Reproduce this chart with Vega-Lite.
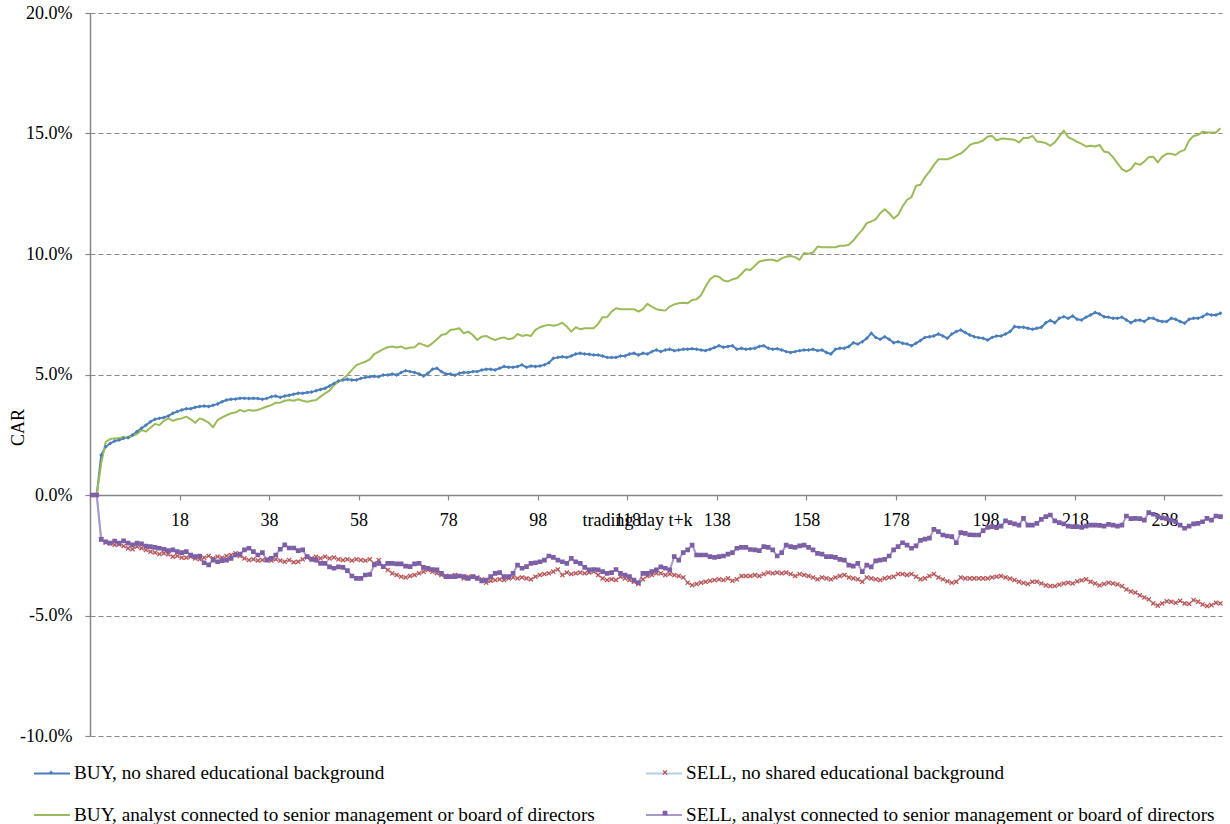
{
"$schema": "https://vega.github.io/schema/vega-lite/v6.json",
"width": 1132, "height": 723,
"autosize": {"type": "none"},
"padding": {"left": 90, "top": 13, "right": 8, "bottom": 88},
"background": "white",
"config": {
  "view": {"stroke": null},
  "font": "Liberation Serif",
  "axis": {"labelFont": "Liberation Serif", "labelFontSize": 18, "labelColor": "black", "titleFont": "Liberation Serif", "titleFontSize": 18, "titleFontWeight": "normal", "titleColor": "black", "domainColor": "#868686", "tickColor": "#868686", "domainWidth": 1.5, "tickWidth": 1.2}
},
"data": {"values": [
{"k":-2,"a":0,"b":0,"c":0,"d":0},
{"k":-1,"a":0,"b":0,"c":0,"d":0},
{"k":0,"a":1.66,"b":-1.84,"c":1.3,"d":-1.84},
{"k":1,"a":2.0,"b":-1.98,"c":2.2,"d":-1.94},
{"k":2,"a":2.14,"b":-2.0,"c":2.32,"d":-2.0},
{"k":3,"a":2.24,"b":-2.07,"c":2.35,"d":-1.91},
{"k":4,"a":2.28,"b":-2.05,"c":2.35,"d":-2.0},
{"k":5,"a":2.35,"b":-2.12,"c":2.42,"d":-1.9},
{"k":6,"a":2.39,"b":-2.21,"c":2.35,"d":-2.0},
{"k":7,"a":2.49,"b":-2.25,"c":2.45,"d":-2.07},
{"k":8,"a":2.63,"b":-2.14,"c":2.53,"d":-2.0},
{"k":9,"a":2.77,"b":-2.21,"c":2.7,"d":-2.03},
{"k":10,"a":2.9,"b":-2.28,"c":2.63,"d":-2.12},
{"k":11,"a":3.04,"b":-2.35,"c":2.79,"d":-2.14},
{"k":12,"a":3.14,"b":-2.39,"c":2.95,"d":-2.17},
{"k":13,"a":3.18,"b":-2.45,"c":2.9,"d":-2.21},
{"k":14,"a":3.22,"b":-2.42,"c":3.08,"d":-2.25},
{"k":15,"a":3.28,"b":-2.46,"c":3.18,"d":-2.31},
{"k":16,"a":3.39,"b":-2.56,"c":3.08,"d":-2.28},
{"k":17,"a":3.46,"b":-2.53,"c":3.14,"d":-2.35},
{"k":18,"a":3.53,"b":-2.6,"c":3.18,"d":-2.39},
{"k":19,"a":3.58,"b":-2.6,"c":3.25,"d":-2.35},
{"k":20,"a":3.58,"b":-2.56,"c":3.14,"d":-2.49},
{"k":21,"a":3.64,"b":-2.63,"c":3.0,"d":-2.56},
{"k":22,"a":3.67,"b":-2.67,"c":3.18,"d":-2.53},
{"k":23,"a":3.69,"b":-2.6,"c":3.11,"d":-2.81},
{"k":24,"a":3.67,"b":-2.53,"c":3.0,"d":-2.9},
{"k":25,"a":3.72,"b":-2.63,"c":2.81,"d":-2.7},
{"k":26,"a":3.78,"b":-2.56,"c":3.11,"d":-2.77},
{"k":27,"a":3.87,"b":-2.6,"c":3.22,"d":-2.72},
{"k":28,"a":3.94,"b":-2.53,"c":3.31,"d":-2.7},
{"k":29,"a":3.97,"b":-2.49,"c":3.39,"d":-2.63},
{"k":30,"a":3.98,"b":-2.42,"c":3.42,"d":-2.49},
{"k":31,"a":4.01,"b":-2.53,"c":3.53,"d":-2.45},
{"k":32,"a":4.01,"b":-2.63,"c":3.46,"d":-2.28},
{"k":33,"a":4.0,"b":-2.7,"c":3.53,"d":-2.21},
{"k":34,"a":4.01,"b":-2.67,"c":3.5,"d":-2.35},
{"k":35,"a":4.0,"b":-2.72,"c":3.53,"d":-2.49},
{"k":36,"a":3.97,"b":-2.7,"c":3.6,"d":-2.39},
{"k":37,"a":4.01,"b":-2.67,"c":3.67,"d":-2.7},
{"k":38,"a":4.08,"b":-2.72,"c":3.73,"d":-2.63},
{"k":39,"a":4.11,"b":-2.67,"c":3.83,"d":-2.49},
{"k":40,"a":4.05,"b":-2.72,"c":3.83,"d":-2.25},
{"k":41,"a":4.11,"b":-2.77,"c":3.91,"d":-2.07},
{"k":42,"a":4.14,"b":-2.7,"c":3.94,"d":-2.2},
{"k":43,"a":4.18,"b":-2.79,"c":3.91,"d":-2.2},
{"k":44,"a":4.22,"b":-2.77,"c":3.97,"d":-2.31},
{"k":45,"a":4.22,"b":-2.67,"c":3.91,"d":-2.28},
{"k":46,"a":4.25,"b":-2.59,"c":3.87,"d":-2.56},
{"k":47,"a":4.27,"b":-2.63,"c":3.91,"d":-2.67},
{"k":48,"a":4.33,"b":-2.56,"c":3.94,"d":-2.7},
{"k":49,"a":4.38,"b":-2.63,"c":4.08,"d":-2.84},
{"k":50,"a":4.43,"b":-2.56,"c":4.22,"d":-2.84},
{"k":51,"a":4.52,"b":-2.63,"c":4.33,"d":-2.98},
{"k":52,"a":4.63,"b":-2.59,"c":4.56,"d":-3.04},
{"k":53,"a":4.73,"b":-2.67,"c":4.7,"d":-2.98},
{"k":54,"a":4.77,"b":-2.7,"c":4.8,"d":-3.0},
{"k":55,"a":4.8,"b":-2.67,"c":4.98,"d":-3.14},
{"k":56,"a":4.77,"b":-2.72,"c":5.19,"d":-3.36},
{"k":57,"a":4.77,"b":-2.67,"c":5.39,"d":-3.46},
{"k":58,"a":4.84,"b":-2.7,"c":5.46,"d":-3.46},
{"k":59,"a":4.88,"b":-2.72,"c":5.53,"d":-3.32},
{"k":60,"a":4.91,"b":-2.67,"c":5.63,"d":-3.3},
{"k":61,"a":4.93,"b":-2.84,"c":5.85,"d":-2.9},
{"k":62,"a":4.91,"b":-2.7,"c":5.95,"d":-2.84},
{"k":63,"a":4.98,"b":-2.97,"c":6.05,"d":-2.97},
{"k":64,"a":4.98,"b":-3.11,"c":6.13,"d":-2.84},
{"k":65,"a":5.02,"b":-3.25,"c":6.16,"d":-2.84},
{"k":66,"a":4.98,"b":-3.32,"c":6.12,"d":-2.86},
{"k":67,"a":5.08,"b":-3.39,"c":6.16,"d":-2.86},
{"k":68,"a":5.16,"b":-3.42,"c":6.07,"d":-2.95},
{"k":69,"a":5.12,"b":-3.36,"c":6.12,"d":-2.97},
{"k":70,"a":5.08,"b":-3.32,"c":6.13,"d":-2.86},
{"k":71,"a":5.02,"b":-3.25,"c":6.3,"d":-2.84},
{"k":72,"a":4.94,"b":-3.18,"c":6.23,"d":-3.0},
{"k":73,"a":5.05,"b":-3.11,"c":6.16,"d":-3.04},
{"k":74,"a":5.22,"b":-3.18,"c":6.3,"d":-3.09},
{"k":75,"a":5.26,"b":-3.25,"c":6.46,"d":-3.11},
{"k":76,"a":5.12,"b":-3.32,"c":6.64,"d":-3.25},
{"k":77,"a":5.02,"b":-3.36,"c":6.68,"d":-3.39},
{"k":78,"a":5.02,"b":-3.39,"c":6.85,"d":-3.39},
{"k":79,"a":4.97,"b":-3.32,"c":6.88,"d":-3.39},
{"k":80,"a":5.05,"b":-3.36,"c":6.92,"d":-3.36},
{"k":81,"a":5.08,"b":-3.46,"c":6.71,"d":-3.39},
{"k":82,"a":5.08,"b":-3.39,"c":6.78,"d":-3.46},
{"k":83,"a":5.12,"b":-3.39,"c":6.64,"d":-3.39},
{"k":84,"a":5.12,"b":-3.42,"c":6.43,"d":-3.46},
{"k":85,"a":5.19,"b":-3.5,"c":6.57,"d":-3.56},
{"k":86,"a":5.22,"b":-3.64,"c":6.6,"d":-3.53},
{"k":87,"a":5.22,"b":-3.56,"c":6.5,"d":-3.39},
{"k":88,"a":5.19,"b":-3.53,"c":6.43,"d":-3.25},
{"k":89,"a":5.26,"b":-3.5,"c":6.5,"d":-3.22},
{"k":90,"a":5.33,"b":-3.53,"c":6.54,"d":-3.39},
{"k":91,"a":5.3,"b":-3.46,"c":6.46,"d":-3.39},
{"k":92,"a":5.3,"b":-3.42,"c":6.5,"d":-3.25},
{"k":93,"a":5.33,"b":-3.46,"c":6.68,"d":-2.91},
{"k":94,"a":5.4,"b":-3.42,"c":6.6,"d":-3.04},
{"k":95,"a":5.3,"b":-3.46,"c":6.64,"d":-2.97},
{"k":96,"a":5.35,"b":-3.5,"c":6.6,"d":-2.84},
{"k":97,"a":5.33,"b":-3.39,"c":6.85,"d":-2.81},
{"k":98,"a":5.35,"b":-3.32,"c":6.96,"d":-2.77},
{"k":99,"a":5.4,"b":-3.28,"c":7.02,"d":-2.7},
{"k":100,"a":5.49,"b":-3.25,"c":7.06,"d":-2.53},
{"k":101,"a":5.67,"b":-3.18,"c":7.02,"d":-2.59},
{"k":102,"a":5.71,"b":-3.09,"c":7.06,"d":-2.7},
{"k":103,"a":5.74,"b":-3.32,"c":7.15,"d":-2.77},
{"k":104,"a":5.71,"b":-3.22,"c":6.99,"d":-2.84},
{"k":105,"a":5.77,"b":-3.28,"c":6.78,"d":-2.63},
{"k":106,"a":5.85,"b":-3.25,"c":6.96,"d":-2.77},
{"k":107,"a":5.88,"b":-3.22,"c":6.88,"d":-2.84},
{"k":108,"a":5.85,"b":-3.25,"c":6.92,"d":-3.0},
{"k":109,"a":5.84,"b":-3.22,"c":6.92,"d":-3.11},
{"k":110,"a":5.81,"b":-3.18,"c":6.92,"d":-3.09},
{"k":111,"a":5.81,"b":-3.32,"c":7.1,"d":-3.11},
{"k":112,"a":5.77,"b":-3.46,"c":7.38,"d":-3.18},
{"k":113,"a":5.71,"b":-3.53,"c":7.38,"d":-3.25},
{"k":114,"a":5.71,"b":-3.5,"c":7.61,"d":-3.22},
{"k":115,"a":5.71,"b":-3.53,"c":7.75,"d":-3.09},
{"k":116,"a":5.77,"b":-3.39,"c":7.71,"d":-3.25},
{"k":117,"a":5.77,"b":-3.46,"c":7.71,"d":-3.32},
{"k":118,"a":5.85,"b":-3.53,"c":7.71,"d":-3.39},
{"k":119,"a":5.88,"b":-3.6,"c":7.71,"d":-3.53},
{"k":120,"a":5.81,"b":-3.69,"c":7.61,"d":-3.64},
{"k":121,"a":5.88,"b":-3.5,"c":7.71,"d":-3.25},
{"k":122,"a":5.85,"b":-3.36,"c":7.93,"d":-3.25},
{"k":123,"a":5.95,"b":-3.32,"c":7.82,"d":-3.18},
{"k":124,"a":6.02,"b":-3.25,"c":7.71,"d":-3.11},
{"k":125,"a":5.95,"b":-3.25,"c":7.68,"d":-2.98},
{"k":126,"a":6.02,"b":-3.32,"c":7.65,"d":-3.04},
{"k":127,"a":6.05,"b":-3.28,"c":7.82,"d":-3.11},
{"k":128,"a":5.99,"b":-3.32,"c":7.91,"d":-2.56},
{"k":129,"a":6.02,"b":-3.36,"c":7.96,"d":-2.7},
{"k":130,"a":6.05,"b":-3.42,"c":7.98,"d":-2.39},
{"k":131,"a":6.05,"b":-3.64,"c":7.96,"d":-2.28},
{"k":132,"a":6.07,"b":-3.74,"c":8.09,"d":-2.08},
{"k":133,"a":6.05,"b":-3.69,"c":8.12,"d":-2.49},
{"k":134,"a":6.02,"b":-3.64,"c":8.3,"d":-2.49},
{"k":135,"a":5.99,"b":-3.6,"c":8.65,"d":-2.49},
{"k":136,"a":6.05,"b":-3.56,"c":8.95,"d":-2.56},
{"k":137,"a":6.12,"b":-3.53,"c":9.09,"d":-2.59},
{"k":138,"a":6.19,"b":-3.5,"c":9.06,"d":-2.56},
{"k":139,"a":6.13,"b":-3.53,"c":8.9,"d":-2.53},
{"k":140,"a":6.16,"b":-3.46,"c":8.86,"d":-2.45},
{"k":141,"a":6.19,"b":-3.56,"c":8.95,"d":-2.39},
{"k":142,"a":6.05,"b":-3.5,"c":8.99,"d":-2.21},
{"k":143,"a":6.09,"b":-3.36,"c":9.17,"d":-2.17},
{"k":144,"a":6.05,"b":-3.36,"c":9.37,"d":-2.17},
{"k":145,"a":6.07,"b":-3.36,"c":9.34,"d":-2.26},
{"k":146,"a":6.09,"b":-3.32,"c":9.51,"d":-2.28},
{"k":147,"a":6.16,"b":-3.36,"c":9.69,"d":-2.31},
{"k":148,"a":6.19,"b":-3.28,"c":9.73,"d":-2.14},
{"k":149,"a":6.09,"b":-3.22,"c":9.76,"d":-2.17},
{"k":150,"a":6.05,"b":-3.25,"c":9.76,"d":-2.28},
{"k":151,"a":6.07,"b":-3.22,"c":9.7,"d":-2.53},
{"k":152,"a":6.02,"b":-3.25,"c":9.82,"d":-2.39},
{"k":153,"a":5.95,"b":-3.22,"c":9.89,"d":-2.08},
{"k":154,"a":5.91,"b":-3.28,"c":9.92,"d":-2.14},
{"k":155,"a":5.95,"b":-3.36,"c":9.87,"d":-2.17},
{"k":156,"a":5.99,"b":-3.28,"c":9.76,"d":-2.11},
{"k":157,"a":6.02,"b":-3.32,"c":10.04,"d":-2.08},
{"k":158,"a":6.02,"b":-3.36,"c":10.01,"d":-2.17},
{"k":159,"a":6.05,"b":-3.42,"c":10.06,"d":-2.28},
{"k":160,"a":5.99,"b":-3.5,"c":10.31,"d":-2.42},
{"k":161,"a":6.02,"b":-3.42,"c":10.28,"d":-2.45},
{"k":162,"a":5.91,"b":-3.46,"c":10.28,"d":-2.56},
{"k":163,"a":5.85,"b":-3.5,"c":10.28,"d":-2.56},
{"k":164,"a":6.05,"b":-3.42,"c":10.28,"d":-2.59},
{"k":165,"a":6.09,"b":-3.36,"c":10.34,"d":-2.67},
{"k":166,"a":6.09,"b":-3.32,"c":10.34,"d":-2.7},
{"k":167,"a":6.16,"b":-3.42,"c":10.38,"d":-2.91},
{"k":168,"a":6.32,"b":-3.46,"c":10.56,"d":-2.95},
{"k":169,"a":6.26,"b":-3.5,"c":10.79,"d":-2.84},
{"k":170,"a":6.36,"b":-3.6,"c":11.0,"d":-3.18},
{"k":171,"a":6.5,"b":-3.42,"c":11.28,"d":-2.91},
{"k":172,"a":6.71,"b":-3.46,"c":11.35,"d":-2.98},
{"k":173,"a":6.54,"b":-3.5,"c":11.44,"d":-2.73},
{"k":174,"a":6.46,"b":-3.53,"c":11.69,"d":-2.7},
{"k":175,"a":6.57,"b":-3.46,"c":11.86,"d":-2.67},
{"k":176,"a":6.46,"b":-3.42,"c":11.69,"d":-2.53},
{"k":177,"a":6.32,"b":-3.39,"c":11.48,"d":-2.28},
{"k":178,"a":6.36,"b":-3.28,"c":11.62,"d":-2.14},
{"k":179,"a":6.3,"b":-3.28,"c":11.97,"d":-1.98},
{"k":180,"a":6.27,"b":-3.32,"c":12.25,"d":-2.08},
{"k":181,"a":6.19,"b":-3.28,"c":12.36,"d":-2.21},
{"k":182,"a":6.3,"b":-3.39,"c":12.83,"d":-2.11},
{"k":183,"a":6.41,"b":-3.5,"c":12.87,"d":-1.88},
{"k":184,"a":6.54,"b":-3.46,"c":13.19,"d":-1.83},
{"k":185,"a":6.57,"b":-3.36,"c":13.42,"d":-1.79},
{"k":186,"a":6.6,"b":-3.28,"c":13.7,"d":-1.43},
{"k":187,"a":6.68,"b":-3.42,"c":13.93,"d":-1.52},
{"k":188,"a":6.6,"b":-3.5,"c":13.93,"d":-1.66},
{"k":189,"a":6.5,"b":-3.58,"c":13.93,"d":-1.7},
{"k":190,"a":6.68,"b":-3.64,"c":14.0,"d":-1.73},
{"k":191,"a":6.78,"b":-3.6,"c":14.09,"d":-1.98},
{"k":192,"a":6.85,"b":-3.42,"c":14.17,"d":-1.56},
{"k":193,"a":6.74,"b":-3.46,"c":14.32,"d":-1.59},
{"k":194,"a":6.64,"b":-3.46,"c":14.52,"d":-1.65},
{"k":195,"a":6.57,"b":-3.46,"c":14.6,"d":-1.66},
{"k":196,"a":6.53,"b":-3.46,"c":14.63,"d":-1.66},
{"k":197,"a":6.5,"b":-3.46,"c":14.71,"d":-1.48},
{"k":198,"a":6.43,"b":-3.46,"c":14.88,"d":-1.34},
{"k":199,"a":6.54,"b":-3.42,"c":14.9,"d":-1.31},
{"k":200,"a":6.6,"b":-3.39,"c":14.71,"d":-1.36},
{"k":201,"a":6.6,"b":-3.36,"c":14.79,"d":-1.29},
{"k":202,"a":6.68,"b":-3.42,"c":14.78,"d":-1.07},
{"k":203,"a":6.78,"b":-3.47,"c":14.76,"d":-1.15},
{"k":204,"a":6.99,"b":-3.53,"c":14.74,"d":-1.2},
{"k":205,"a":6.96,"b":-3.6,"c":14.63,"d":-1.25},
{"k":206,"a":6.96,"b":-3.65,"c":14.81,"d":-0.97},
{"k":207,"a":6.92,"b":-3.69,"c":14.81,"d":-1.25},
{"k":208,"a":6.88,"b":-3.6,"c":14.9,"d":-1.25},
{"k":209,"a":6.92,"b":-3.6,"c":14.67,"d":-1.18},
{"k":210,"a":6.96,"b":-3.67,"c":14.65,"d":-1.01},
{"k":211,"a":7.15,"b":-3.75,"c":14.6,"d":-0.9},
{"k":212,"a":7.24,"b":-3.78,"c":14.49,"d":-0.83},
{"k":213,"a":7.15,"b":-3.78,"c":14.63,"d":-1.07},
{"k":214,"a":7.33,"b":-3.72,"c":14.88,"d":-1.15},
{"k":215,"a":7.4,"b":-3.67,"c":15.12,"d":-1.2},
{"k":216,"a":7.33,"b":-3.64,"c":14.85,"d":-1.29},
{"k":217,"a":7.43,"b":-3.67,"c":14.76,"d":-1.31},
{"k":218,"a":7.29,"b":-3.58,"c":14.65,"d":-1.31},
{"k":219,"a":7.26,"b":-3.54,"c":14.57,"d":-1.34},
{"k":220,"a":7.38,"b":-3.5,"c":14.46,"d":-1.29},
{"k":221,"a":7.47,"b":-3.6,"c":14.49,"d":-1.25},
{"k":222,"a":7.57,"b":-3.67,"c":14.46,"d":-1.25},
{"k":223,"a":7.51,"b":-3.75,"c":14.53,"d":-1.26},
{"k":224,"a":7.4,"b":-3.69,"c":14.25,"d":-1.29},
{"k":225,"a":7.38,"b":-3.64,"c":14.21,"d":-1.22},
{"k":226,"a":7.33,"b":-3.67,"c":14.02,"d":-1.25},
{"k":227,"a":7.33,"b":-3.71,"c":13.77,"d":-1.29},
{"k":228,"a":7.38,"b":-3.78,"c":13.52,"d":-1.25},
{"k":229,"a":7.26,"b":-3.92,"c":13.42,"d":-0.87},
{"k":230,"a":7.15,"b":-4.0,"c":13.52,"d":-0.98},
{"k":231,"a":7.24,"b":-4.05,"c":13.77,"d":-0.97},
{"k":232,"a":7.26,"b":-4.16,"c":13.7,"d":-0.98},
{"k":233,"a":7.2,"b":-4.25,"c":13.84,"d":-1.04},
{"k":234,"a":7.33,"b":-4.33,"c":14.02,"d":-0.73},
{"k":235,"a":7.33,"b":-4.5,"c":14.04,"d":-0.8},
{"k":236,"a":7.24,"b":-4.59,"c":13.8,"d":-0.9},
{"k":237,"a":7.2,"b":-4.5,"c":14.04,"d":-0.95},
{"k":238,"a":7.2,"b":-4.41,"c":14.16,"d":-0.98},
{"k":239,"a":7.33,"b":-4.43,"c":14.16,"d":-1.04},
{"k":240,"a":7.29,"b":-4.47,"c":14.11,"d":-1.11},
{"k":241,"a":7.2,"b":-4.39,"c":14.25,"d":-1.25},
{"k":242,"a":7.13,"b":-4.5,"c":14.32,"d":-1.38},
{"k":243,"a":7.29,"b":-4.52,"c":14.71,"d":-1.29},
{"k":244,"a":7.33,"b":-4.36,"c":14.9,"d":-1.2},
{"k":245,"a":7.33,"b":-4.43,"c":14.94,"d":-1.18},
{"k":246,"a":7.4,"b":-4.54,"c":15.07,"d":-1.11},
{"k":247,"a":7.51,"b":-4.61,"c":15.04,"d":-0.97},
{"k":248,"a":7.47,"b":-4.57,"c":15.04,"d":-1.04},
{"k":249,"a":7.47,"b":-4.47,"c":15.04,"d":-0.87},
{"k":250,"a":7.54,"b":-4.5,"c":15.22,"d":-0.9}
]},
"transform": [{"fold": ["a", "b", "c", "d"], "as": ["s", "v"]}],
"layer": [
  {
    "mark": {"type": "line", "strokeJoin": "round"},
    "encoding": {
      "x": {"field": "k", "type": "quantitative",
        "scale": {"domain": [-2.5, 250.35], "nice": false, "zero": false},
        "axis": {"orient": "bottom", "offset": -241, "values": [17.5, 37.5, 57.5, 77.5, 97.5, 117.5, 137.5, 157.5, 177.5, 197.5, 217.5, 237.5],
          "labelExpr": "format(datum.value + 0.5, 'd')", "grid": false, "tickSize": 5, "labelPadding": 11, "labelBaseline": "top", "labelDx": 2,
          "labelFlush": false, "labelOverlap": false,
          "title": "trading day t+k", "titleX": 547, "titleY": 16, "titleBaseline": "top", "titleAlign": "center", "titleAnchor": null}},
      "y": {"field": "v", "type": "quantitative",
        "scale": {"domain": [-10, 20], "nice": false, "zero": false},
        "axis": {"values": [-10, -5, 0, 5, 10, 15, 20],
          "labelExpr": "(datum.value < 0 ? '-' : '') + format(abs(datum.value), '.1f') + '%'",
          "grid": true, "gridDash": [5, 3], "gridColor": "#8a8a8a", "gridWidth": 1, "tickSize": 5, "labelPadding": 13,
          "labelFlush": false, "labelOverlap": false,
          "title": "CAR", "titleX": -72, "titleY": 414, "titleAngle": 270, "titleAlign": "center", "titleBaseline": "middle", "titleAnchor": null}},
      "stroke": {"field": "s", "type": "nominal",
        "scale": {"domain": ["a", "b", "c", "d"], "range": ["#4A7EBB", "#B9CDE5", "#9BBB59", "#A998CB"]},
        "legend": {"title": null, "orient": "none", "direction": "horizontal", "legendX": -57, "legendY": 741, "columns": 2, "columnPadding": 47, "rowPadding": 12,
          "padding": 0, "symbolType": "M-1,0L1,0", "symbolSize": 1296, "symbolStrokeWidth": 2.5,
          "labelFont": "Liberation Serif", "labelFontSize": 19.2, "labelColor": "black", "labelLimit": 1000, "labelOffset": 3,
          "labelExpr": "datum.label == 'a' ? 'BUY, no shared educational background' : datum.label == 'b' ? 'SELL, no shared educational background' : datum.label == 'c' ? 'BUY, analyst connected to senior management or board of directors' : 'SELL, analyst connected to senior management or board of directors'"}},
      "strokeWidth": {"field": "s", "type": "nominal",
        "scale": {"domain": ["a", "b", "c", "d"], "range": [2, 2, 2.8, 2]}, "legend": null}
    }
  },
  {
    "transform": [{"filter": "isValid(datum.v)"}],
    "mark": {"type": "point", "filled": true, "size": 1296, "strokeWidth": 0, "opacity": 1},
    "encoding": {
      "x": {"field": "k", "type": "quantitative"},
      "y": {"field": "v", "type": "quantitative"},
      "shape": {"field": "s", "type": "nominal",
        "scale": {"range": ["M-1,0L1,0M0,-0.11L0.11,0L0,0.11L-0.11,0Z", "M-1,0L1,0M-0.09,-0.14L0,-0.05L0.09,-0.14L0.14,-0.09L0.05,0L0.14,0.09L0.09,0.14L0,0.05L-0.09,0.14L-0.14,0.09L-0.05,0L-0.14,-0.09Z", "M-1,0L1,0", "M-1,0L1,0M-0.13,-0.13L0.13,-0.13L0.13,0.13L-0.13,0.13Z"]},
        "legend": {"title": null, "orient": "none", "direction": "horizontal", "legendX": -57, "legendY": 741, "columns": 2, "columnPadding": 575, "rowPadding": 12,
          "padding": 0, "symbolSize": 1296, "symbolStrokeWidth": 0, "symbolStrokeColor": "transparent",
          "labelFont": "Liberation Serif", "labelFontSize": 19.2, "labelLimit": 1000, "labelOffset": 3,
          "labelExpr": "''"}},
      "fill": {"field": "s", "type": "nominal",
        "scale": {"range": ["#4A7EBB", "#C0504D", "transparent", "#7D5FA5"]},
        "legend": {"title": null, "orient": "none", "direction": "horizontal", "legendX": -57, "legendY": 741, "columns": 2, "columnPadding": 575, "rowPadding": 12,
          "padding": 0, "symbolSize": 1296, "symbolStrokeWidth": 0, "symbolStrokeColor": "transparent",
          "labelFont": "Liberation Serif", "labelFontSize": 19.2, "labelLimit": 1000, "labelOffset": 3,
          "labelExpr": "''"}}
    }
  }
]
}
